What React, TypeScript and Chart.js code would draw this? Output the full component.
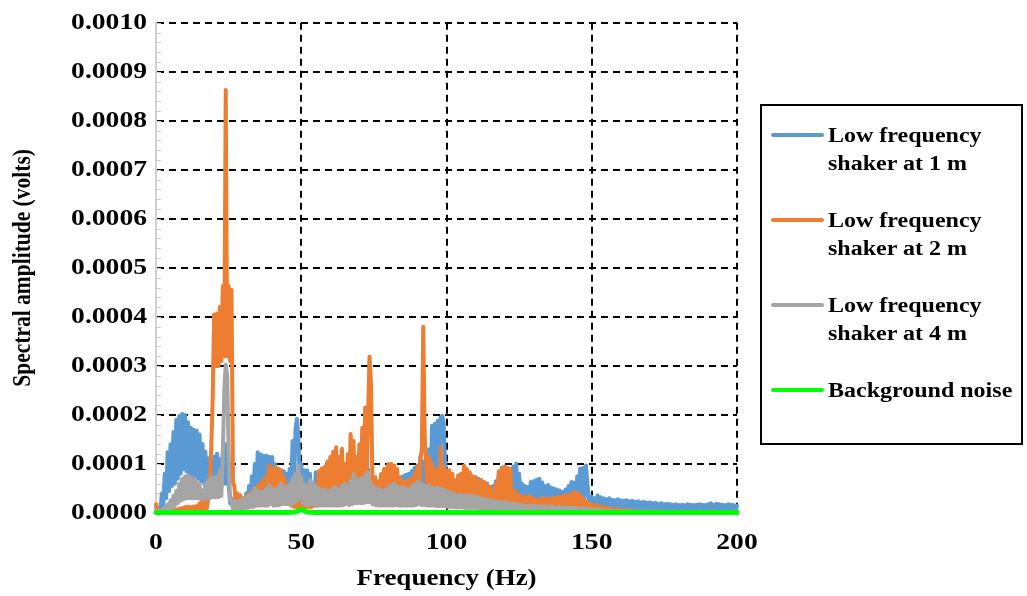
import React, { useEffect, useRef } from "react";
import { Chart, registerables } from "chart.js";

Chart.register(...registerables);

// ---- Data: spectral amplitude in microvolts, sampled every 0.5 Hz from 0 to 200 Hz ----
const FREQ_STEP_HZ = 0.5;

const SERIES_LABELS = [
  "Low frequency shaker at 1 m",
  "Low frequency shaker at 2 m",
  "Low frequency shaker at 4 m",
  "Background noise",
];
const SERIES_COLORS = ["#5B9BD5", "#ED7D31", "#A5A5A5", "#00FF00"];

const X_TICKS = [0, 50, 100, 150, 200];
const Y_MAX_UV = 1000;
const Y_STEP_UV = 100;
const Y_MINOR_STEP_UV = 20;

const BLUE_1M = [
  /* 0 */ 12, 5, 10, 4, 40, 15, 80, 30, 124, 45, 140, 55, 165, 60, 190, 70, 198, 80, 202, 90,
  /* 10 */ 200, 85, 185, 80, 174, 75, 170, 75, 168, 70, 160, 65, 141, 60, 125, 60, 111, 55, 110, 55,
  /* 20 */ 115, 55, 121, 60, 110, 55, 125, 60, 140, 60, 60, 20, 30, 10, 25, 10, 28, 10, 25, 10,
  /* 30 */ 30, 12, 40, 15, 55, 20, 75, 25, 100, 30, 124, 35, 120, 35, 117, 35, 117, 35, 115, 35,
  /* 40 */ 114, 35, 100, 35, 91, 30, 87, 30, 85, 30, 80, 30, 90, 30, 147, 40, 170, 192, 160, 60,
  /* 50 */ 100, 30, 87, 30, 87, 30, 80, 30, 53, 25, 83, 30, 70, 30, 67, 30, 60, 30, 65, 30,
  /* 60 */ 70, 30, 65, 30, 75, 30, 70, 30, 80, 30, 75, 30, 85, 30, 90, 35, 95, 35, 100, 35,
  /* 70 */ 120, 40, 140, 40, 144, 40, 90, 30, 60, 25, 65, 25, 63, 25, 60, 25, 53, 25, 60, 25,
  /* 80 */ 62, 25, 65, 25, 70, 28, 73, 28, 72, 30, 75, 30, 78, 30, 80, 30, 85, 30, 92, 35,
  /* 90 */ 97, 35, 114, 35, 105, 35, 100, 35, 130, 40, 178, 45, 182, 45, 188, 45, 195, 198, 185, 100,
  /* 100 */ 70, 30, 65, 30, 70, 30, 65, 30, 70, 30, 68, 30, 62, 30, 70, 30, 73, 30, 67, 30,
  /* 110 */ 73, 30, 70, 30, 67, 30, 63, 30, 60, 28, 53, 28, 55, 28, 65, 30, 80, 30, 93, 30,
  /* 120 */ 90, 30, 88, 30, 90, 30, 95, 30, 101, 30, 80, 28, 60, 25, 55, 25, 53, 22, 63, 22,
  /* 130 */ 65, 22, 68, 22, 70, 22, 62, 20, 55, 20, 57, 20, 52, 20, 50, 20, 48, 20, 46, 20,
  /* 140 */ 43, 18, 48, 18, 55, 20, 63, 22, 62, 22, 75, 25, 91, 28, 92, 30, 97, 60, 30, 10,
  /* 150 */ 33, 8, 30, 7, 36, 8, 32, 7, 30, 7, 28, 6, 30, 7, 27, 6, 26, 6, 28, 6,
  /* 160 */ 26, 6, 25, 6, 26, 6, 24, 5, 25, 6, 23, 5, 24, 5, 22, 5, 23, 5, 21, 5,
  /* 170 */ 22, 5, 20, 5, 21, 5, 19, 4, 20, 5, 18, 4, 19, 4, 18, 4, 17, 4, 18, 4,
  /* 180 */ 16, 4, 17, 4, 16, 4, 18, 4, 17, 4, 16, 4, 17, 4, 18, 4, 17, 4, 16, 4,
  /* 190 */ 18, 4, 20, 5, 17, 4, 19, 4, 18, 4, 17, 4, 16, 4, 18, 4, 17, 4, 16, 4,
  /* 200 */ 15,
];

const ORANGE_2M = [
  /* 0 */ 18, 3, 6, 2, 5, 2, 6, 2, 7, 2, 6, 2, 8, 2, 7, 2, 9, 3, 10, 3,
  /* 10 */ 12, 3, 13, 3, 12, 3, 13, 3, 14, 4, 20, 5, 26, 6, 35, 10, 30, 60, 130, 230,
  /* 20 */ 405, 300, 407, 300, 420, 310, 463, 320, 863, 320, 463, 310, 455, 60, 55, 15, 40, 12, 36, 12,
  /* 30 */ 30, 12, 35, 12, 38, 14, 43, 15, 50, 15, 55, 18, 60, 18, 67, 20, 75, 20, 97, 25,
  /* 40 */ 90, 25, 94, 25, 90, 25, 87, 22, 73, 20, 60, 18, 46, 15, 40, 12, 38, 12, 35, 12,
  /* 50 */ 35, 12, 38, 12, 36, 12, 40, 12, 45, 15, 50, 15, 85, 20, 91, 22, 94, 25, 105, 25,
  /* 60 */ 114, 30, 125, 30, 134, 30, 114, 30, 131, 30, 100, 30, 120, 30, 161, 35, 147, 35, 114, 35,
  /* 70 */ 140, 40, 174, 50, 215, 60, 202, 319, 263, 67, 30, 73, 28, 65, 28, 80, 28, 90, 30, 85,
  /* 80 */ 100, 28, 100, 28, 97, 28, 90, 26, 73, 25, 65, 25, 63, 25, 67, 25, 70, 25, 80, 28,
  /* 90 */ 94, 28, 110, 130, 380, 150, 100, 28, 114, 28, 100, 28, 87, 26, 90, 26, 134, 28, 93, 28,
  /* 100 */ 87, 25, 87, 25, 80, 25, 67, 22, 77, 22, 80, 22, 97, 25, 90, 25, 83, 22, 75, 22,
  /* 110 */ 73, 22, 67, 20, 67, 20, 63, 20, 58, 18, 53, 18, 46, 15, 60, 18, 85, 20, 90, 22,
  /* 120 */ 95, 22, 92, 22, 90, 20, 46, 15, 42, 12, 36, 12, 34, 10, 33, 10, 32, 10, 33, 10,
  /* 130 */ 30, 10, 26, 10, 28, 10, 30, 10, 29, 10, 28, 10, 30, 10, 31, 10, 30, 10, 33, 10,
  /* 140 */ 34, 10, 36, 12, 36, 12, 38, 12, 43, 14, 40, 12, 36, 12, 30, 10, 23, 8, 20, 6,
  /* 150 */ 18, 5, 16, 5, 15, 4, 13, 4, 12, 4, 11, 3, 10, 3, 9, 3, 8, 2, 8, 2,
  /* 160 */ 7, 2, 6, 2, 6, 2, 5, 2, 5, 2, 4, 2, 4, 2, 3, 1, 3, 1, 3, 1,
  /* 170 */ 3, 1, 3, 1, 2, 1, 3, 1, 2, 1, 3, 1, 2, 1, 2, 1, 3, 1, 2, 1,
  /* 180 */ 2, 1, 3, 1, 2, 1, 2, 1, 3, 1, 2, 1, 2, 1, 3, 1, 2, 1, 2, 1,
  /* 190 */ 2, 1, 2, 1, 3, 1, 2, 1, 2, 1, 3, 1, 2, 1, 2, 1, 2, 1, 3, 1,
  /* 200 */ 2,
];

const GRAY_4M = [
  /* 0 */ 5, 2, 4, 2, 6, 2, 12, 4, 18, 6, 26, 10, 35, 15, 45, 20, 60, 25, 70, 28,
  /* 10 */ 75, 30, 77, 30, 72, 30, 70, 30, 65, 30, 58, 28, 46, 28, 60, 30, 67, 30, 73, 32,
  /* 20 */ 73, 32, 75, 32, 87, 35, 120, 250, 303, 280, 120, 25, 25, 8, 24, 8, 22, 8, 25, 8,
  /* 30 */ 30, 10, 32, 10, 36, 12, 40, 12, 50, 15, 45, 15, 43, 15, 45, 15, 50, 15, 57, 18,
  /* 40 */ 50, 15, 46, 15, 52, 16, 60, 18, 55, 18, 53, 18, 58, 18, 70, 20, 80, 25, 97, 30,
  /* 50 */ 75, 20, 60, 18, 55, 16, 67, 18, 62, 18, 55, 15, 50, 15, 46, 15, 48, 15, 45, 15,
  /* 60 */ 46, 15, 50, 15, 53, 15, 48, 15, 55, 16, 60, 18, 55, 16, 65, 18, 80, 20, 70, 20,
  /* 70 */ 67, 20, 72, 20, 77, 22, 83, 22, 60, 18, 53, 16, 48, 15, 50, 15, 45, 15, 48, 15,
  /* 80 */ 52, 15, 56, 15, 60, 16, 55, 15, 50, 15, 53, 15, 50, 15, 48, 15, 55, 15, 58, 16,
  /* 90 */ 63, 18, 60, 16, 58, 16, 55, 15, 57, 15, 52, 15, 50, 14, 52, 14, 50, 14, 48, 14,
  /* 100 */ 45, 12, 43, 12, 40, 12, 38, 11, 36, 11, 38, 11, 36, 10, 35, 10, 36, 10, 34, 10,
  /* 110 */ 33, 10, 32, 9, 30, 9, 28, 8, 27, 8, 26, 8, 25, 8, 24, 7, 23, 7, 22, 7,
  /* 120 */ 22, 6, 21, 6, 20, 6, 19, 5, 18, 5, 17, 5, 16, 5, 15, 4, 15, 4, 14, 4,
  /* 130 */ 15, 4, 14, 4, 13, 4, 14, 4, 13, 3, 12, 3, 13, 3, 12, 3, 11, 3, 12, 3,
  /* 140 */ 11, 3, 12, 3, 11, 3, 10, 3, 11, 3, 10, 2, 9, 2, 10, 2, 9, 2, 8, 2,
  /* 150 */ 8, 2, 7, 2, 7, 2, 6, 2, 6, 2, 5, 2, 5, 2, 5, 1, 4, 1, 4, 1,
  /* 160 */ 4, 1, 4, 1, 3, 1, 4, 1, 3, 1, 3, 1, 3, 1, 3, 1, 3, 1, 3, 1,
  /* 170 */ 3, 1, 3, 1, 3, 1, 2, 1, 3, 1, 2, 1, 3, 1, 2, 1, 3, 1, 2, 1,
  /* 180 */ 2, 1, 3, 1, 2, 1, 2, 1, 3, 1, 2, 1, 2, 1, 3, 1, 2, 1, 2, 1,
  /* 190 */ 2, 1, 2, 1, 3, 1, 2, 1, 2, 1, 3, 1, 2, 1, 2, 1, 2, 1, 3, 1,
  /* 200 */ 2,
];

const GREEN_FREQ = [0, 5, 10, 15, 20, 25, 30, 35, 40, 45, 48, 49, 50, 51, 52, 55, 60, 70, 80, 90, 100, 110, 120, 130, 140, 150, 160, 170, 180, 190, 200];
const GREEN_NOISE = [1, 1, 1, 1, 1, 1, 1, 1, 1, 1, 2, 5, 7, 5, 2, 1, 1, 1, 1, 1, 1, 1, 1, 1, 1, 1, 1, 1, 1, 1, 1];

const FONT_FAMILY = "'Liberation Serif', 'Times New Roman', serif";
const TEXT_STRETCH_X = 1.2; // the reference's lettering is horizontally widened

const W = 1027;
const H = 596;

const minorTicksPlugin = {
  id: "minorTicks",
  beforeDatasetsDraw(chart: any) {
    const y = chart.scales.y;
    const ctx = chart.ctx;
    const left = chart.chartArea.left;
    ctx.save();
    ctx.strokeStyle = "#c8c8c8";
    ctx.lineWidth = 1;
    for (let v = 0; v <= Y_MAX_UV; v += Y_MINOR_STEP_UV) {
      const py = Math.round(y.getPixelForValue(v)) + 0.5;
      ctx.beginPath();
      ctx.moveTo(left, py);
      ctx.lineTo(left + 5, py);
      ctx.stroke();
    }
    ctx.restore();
  },
};

const stretchTextPlugin = {
  id: "stretchText",
  beforeDraw(chart: any) {
    const ctx = chart.ctx;
    if (ctx.__origFillText) return;
    const orig = ctx.fillText;
    ctx.__origFillText = orig;
    ctx.fillText = function (text: string, x: number, y: number) {
      const m = this.getTransform();
      this.save();
      this.translate(x, y);
      if (Math.abs(m.b) > 0.5) this.scale(1, TEXT_STRETCH_X);
      else this.scale(TEXT_STRETCH_X, 1);
      orig.call(this, text, 0, 0);
      this.restore();
    };
  },
  afterDraw(chart: any) {
    const ctx = chart.ctx;
    if (ctx.__origFillText) {
      ctx.fillText = ctx.__origFillText;
      delete ctx.__origFillText;
    }
  },
};

function toPoints(vals: number[], freqs?: number[]) {
  return vals.map((v, i) => ({ x: freqs ? freqs[i] : i * FREQ_STEP_HZ, y: v }));
}

export default function App() {
  const canvasRef = useRef<HTMLCanvasElement | null>(null);

  useEffect(() => {
    const canvas = canvasRef.current;
    if (!canvas) return;
    const tickFont = { family: FONT_FAMILY, size: 23, weight: "bold" as const };
    const lineBase = {
      pointRadius: 0,
      pointHoverRadius: 0,
      tension: 0,
      fill: false,
      borderWidth: 4,
      borderJoinStyle: "round" as const,
      borderCapStyle: "round" as const,
      clip: 4,
    };
    const gridColor = (c: any) => (c.tick && c.tick.value === 0 ? "rgba(0,0,0,0)" : "#000");
    const chart = new Chart(canvas, {
      type: "line",
      data: {
        datasets: [
          { ...lineBase, label: SERIES_LABELS[0], data: toPoints(BLUE_1M), borderColor: SERIES_COLORS[0], order: 3 },
          { ...lineBase, label: SERIES_LABELS[1], data: toPoints(ORANGE_2M), borderColor: SERIES_COLORS[1], order: 2 },
          { ...lineBase, label: SERIES_LABELS[2], data: toPoints(GRAY_4M), borderColor: SERIES_COLORS[2], order: 1 },
          { ...lineBase, label: SERIES_LABELS[3], data: toPoints(GREEN_NOISE, GREEN_FREQ), borderColor: SERIES_COLORS[3], borderWidth: 5, order: 0 },
        ],
      },
      options: {
        responsive: false,
        animation: false,
        devicePixelRatio: 1,
        layout: { padding: { left: 0, right: 290, top: 18, bottom: 0 } },
        plugins: { legend: { display: false }, tooltip: { enabled: false } },
        scales: {
          x: {
            type: "linear",
            min: 0,
            max: 200,
            afterBuildTicks: (scale: any) => {
              scale.ticks = X_TICKS.map((v) => ({ value: v }));
            },
            ticks: { font: tickFont, color: "#000", padding: 16, maxRotation: 0, autoSkip: false },
            grid: { color: gridColor, lineWidth: 2, drawTicks: false },
            border: { display: false, dash: [7, 5] },
            title: {
              display: true,
              text: "Frequency (Hz)",
              font: { family: FONT_FAMILY, size: 22.5, weight: "bold" },
              color: "#000",
              padding: { top: 0, bottom: 3 },
            },
            afterFit: (scale: any) => {
              scale.height = H - 513;
            },
          },
          y: {
            type: "linear",
            min: 0,
            max: Y_MAX_UV,
            ticks: {
              stepSize: Y_STEP_UV,
              font: tickFont,
              color: "#000",
              padding: 9,
              callback: (v: any) => (Number(v) / 1e6).toFixed(4),
            },
            grid: { color: gridColor, lineWidth: 2, drawTicks: false },
            border: { display: true, color: "#d0d0d0", width: 2, dash: [7, 5] },
            title: {
              display: true,
              text: "Spectral amplitude (volts)",
              font: { family: FONT_FAMILY, size: 21.5, weight: "bold" },
              color: "#000",
              padding: { top: 10, bottom: 0 },
            },
            afterFit: (scale: any) => {
              scale.width = 156;
            },
          },
        },
      },
      plugins: [minorTicksPlugin, stretchTextPlugin],
    });
    return () => chart.destroy();
  }, []);

  const textStyle: React.CSSProperties = {
    position: "absolute",
    left: 828,
    width: 160,
    fontFamily: FONT_FAMILY,
    fontWeight: "bold",
    fontSize: 20,
    lineHeight: "28px",
    color: "#000",
    transform: `scaleX(${TEXT_STRETCH_X})`,
    transformOrigin: "left top",
  };

  return (
    <div style={{ position: "absolute", left: 0, top: 0, width: W, height: H, background: "#fff" }}>
      <canvas ref={canvasRef} width={W} height={H} style={{ display: "block", width: W, height: H }} />
      <div
        style={{
          position: "absolute",
          left: 760,
          top: 104,
          width: 263,
          height: 341,
          boxSizing: "border-box",
          border: "2px solid #000",
        }}
      />
      {SERIES_LABELS.map((label, i) => (
        <React.Fragment key={label}>
          <div
            style={{
              position: "absolute",
              left: 771,
              top: 135 + 85 * i - 2,
              width: 53,
              height: 4,
              borderRadius: 2,
              background: SERIES_COLORS[i],
            }}
          />
          <div style={{ ...textStyle, top: 121 + 85 * i }}>{label}</div>
        </React.Fragment>
      ))}
    </div>
  );
}
